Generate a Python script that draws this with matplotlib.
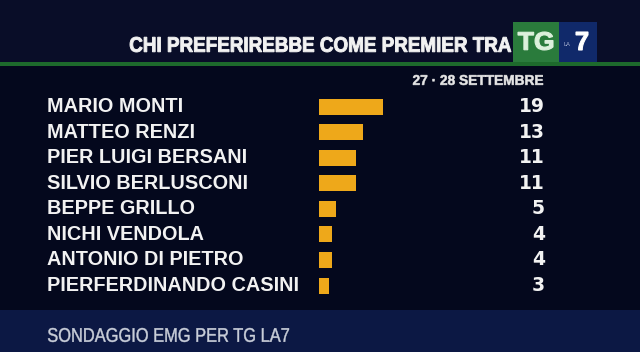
import matplotlib.pyplot as plt
from matplotlib.patches import Rectangle, PathPatch
from matplotlib.textpath import TextPath
from matplotlib.font_manager import FontProperties
from matplotlib.transforms import Affine2D

names = [
    "MARIO MONTI",
    "MATTEO RENZI",
    "PIER LUIGI BERSANI",
    "SILVIO BERLUSCONI",
    "BEPPE GRILLO",
    "NICHI VENDOLA",
    "ANTONIO DI PIETRO",
    "PIERFERDINANDO CASINI",
]
values = [19, 13, 11, 11, 5, 4, 4, 3]

title = "CHI PREFERIREBBE COME PREMIER TRA"
date_label = "27 \u00b7 28 SETTEMBRE"
footer = "SONDAGGIO EMG PER TG LA7"

W, H = 640, 352
BG_TOP = "#090d28"
BG_MID = "#04081d"
BG_FOOT = "#0c1844"
BAR = "#eea81a"
TEXT = "#f2f2f2"

fig = plt.figure(figsize=(W / 100, H / 100), dpi=100)
fig.patch.set_facecolor(BG_MID)


def add_rect(x, y, w, h, color, z=0):
    # pixel box, top-left origin
    fig.add_artist(Rectangle((x / W, 1 - (y + h) / H), w / W, h / H,
                             transform=fig.transFigure, facecolor=color,
                             edgecolor="none", zorder=z))


def condensed_text(s, x0, x1, y_top, y_bot, color, weight="bold", lw=0.0, z=3):
    # text squeezed horizontally to fit a pixel box (TV-style narrow font)
    path = TextPath((0, 0), s, size=20,
                    prop=FontProperties(family="Liberation Sans", weight=weight))
    ext = path.get_extents()
    sx = (x1 - x0) / ext.width
    sy = (y_bot - y_top) / ext.height
    tr = Affine2D().translate(-ext.x0, -ext.y0).scale(sx, sy).translate(x0, H - y_bot)
    fig.add_artist(PathPatch(tr.transform_path(path), facecolor=color,
                             edgecolor=color if lw else "none", linewidth=lw,
                             transform=None, zorder=z))


add_rect(0, 0, W, 63, BG_TOP)
add_rect(0, 62, W, 4, "#1d6a2c", z=1)
add_rect(0, 310, W, 42, BG_FOOT)

# logo
add_rect(513, 22, 46, 40, "#2a7b3c", z=2)
add_rect(559, 22, 38, 40, "#10296a", z=2)
condensed_text("TG", 518, 553, 32, 50, "#dcf0dc", lw=0.8)
fig.text(567 / W, 1 - 45 / H, "LA", color="#aeb8d6", fontsize=4,
         ha="center", va="center", zorder=3)
condensed_text("7", 576, 588, 32, 50, "white", lw=0.8)

condensed_text(title, 130, 511, 37, 52, TEXT, lw=0.7)
condensed_text(date_label, 413, 543, 75, 85, "#e6e6e6", lw=0.4)
condensed_text(footer, 48, 289, 328, 342, "#c9ced9", weight="normal", lw=0.3)

# chart axes covering the whole canvas; bar origin at x=319, 3.35 px per unit
ax = fig.add_axes([0, 0, 1, 1])
ax.set_facecolor("none")
ax.set_xlim(-319 / 3.35, (W - 319) / 3.35)
pitch = 179 / 7
ax.set_ylim(7 + (H - 285.5) / pitch, -106.5 / pitch)
ax.axis("off")

rows = list(range(len(names)))
ax.barh(rows, values, height=16 / pitch, color=BAR, left=0)

x_label = (47 - 319) / 3.35
x_num = (545 - 319) / 3.35
for r, name, v in zip(rows, names, values):
    ax.text(x_label, r, name, color=TEXT, fontsize=14.3, fontweight="bold",
            family="Liberation Sans", ha="left", va="center")
    ax.text(x_num, r, str(v), color=TEXT, fontsize=13.5, fontweight="bold",
            family="DejaVu Sans", ha="right", va="center")

fig.savefig("out.png", dpi=100, facecolor=fig.get_facecolor())
